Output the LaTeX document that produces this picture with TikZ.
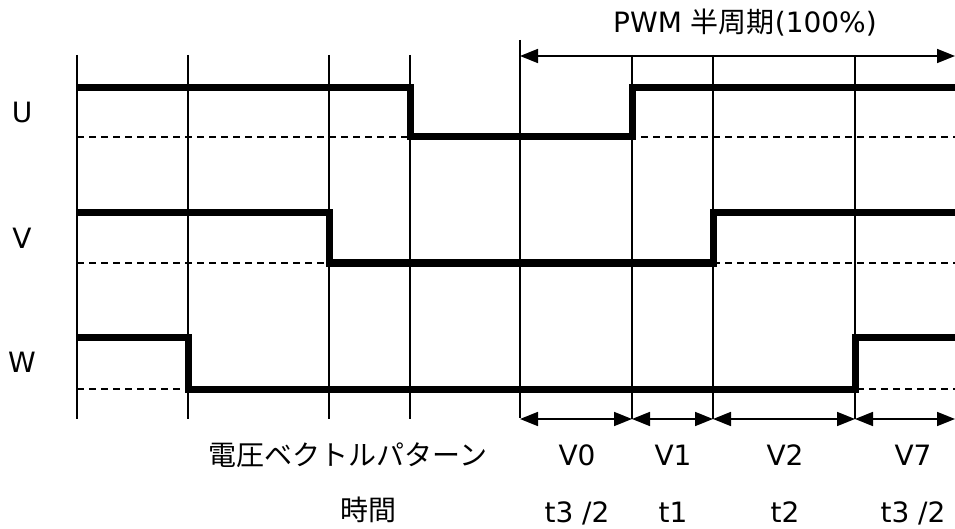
\documentclass[tikz,border=0pt]{standalone}
\usepackage{fontspec}
\setmainfont{DejaVu Sans}
\newfontfamily\jpfont{Noto Sans CJK JP}
\usetikzlibrary{arrows.meta}

\begin{document}
\begin{tikzpicture}[
    x=1pt, y=-1pt,
    >={Triangle[length=18pt 0 0,width=14pt 0 0]},
    grid/.style={line width=1.7pt},
    base/.style={line width=1.4pt, dash pattern=on 7pt off 5pt},
    wave/.style={line width=7pt},
    label/.style={font=\fontsize{28}{32}\selectfont, inner sep=0pt, anchor=base}
]
    \useasboundingbox (0,0) rectangle (955,529);

    % time marks
    \foreach \x in {77,188,329,410,632,713,855}
        \draw[grid] (\x,55) -- (\x,419);
    \draw[grid] (520,40) -- (520,418);

    % zero levels
    \foreach \y in {137,263,389}
        \draw[base] (77,\y) -- (955,\y);

    % phase signals
    \draw[wave] (78,88) -| (410,137) -| (632,88) -- (955,88);
    \draw[wave] (78,213) -| (329,263) -| (713,213) -- (955,213);
    \draw[wave] (78,337) -| (188,389) -| (855,337) -- (955,337);

    \node[label] (U) at (22,123) {U};
    \node[label] (V) at (22,248) {V};
    \node[label] (W) at (22,372) {W};

    % PWM half period
    \coordinate (p0) at (520,56);
    \coordinate (p1) at (955,56);
    \draw[<->, grid] (p0) -- (p1);
    \node[label] (pwm) at (745,33) {PWM {\jpfont 半周期}(100\%)};

    % vector intervals
    \coordinate (b0) at (520,419);
    \coordinate (b1) at (632,419);
    \coordinate (b2) at (713,419);
    \coordinate (b3) at (855,419);
    \coordinate (b4) at (955,419);
    \draw[<->, grid] (b0) -- (b1);
    \draw[<->, grid] (b1) -- (b2);
    \draw[<->, grid] (b2) -- (b3);
    \draw[<->, grid] (b3) -- (b4);

    \node[label] (vec) at (348,465) {\jpfont 電圧ベクトルパターン};
    \node[label] (v0) at (577,465) {V0};
    \node[label] (v1) at (673,465) {V1};
    \node[label] (v2) at (785,465) {V2};
    \node[label] (v7) at (913,465) {V7};

    \node[label] (time) at (368,520) {\jpfont 時間};
    \node[label] (ta) at (577,522) {t3 /2};
    \node[label] (tb) at (673,522) {t1};
    \node[label] (tc) at (785,522) {t2};
    \node[label] (td) at (913,522) {t3 /2};
\end{tikzpicture}
\end{document}
